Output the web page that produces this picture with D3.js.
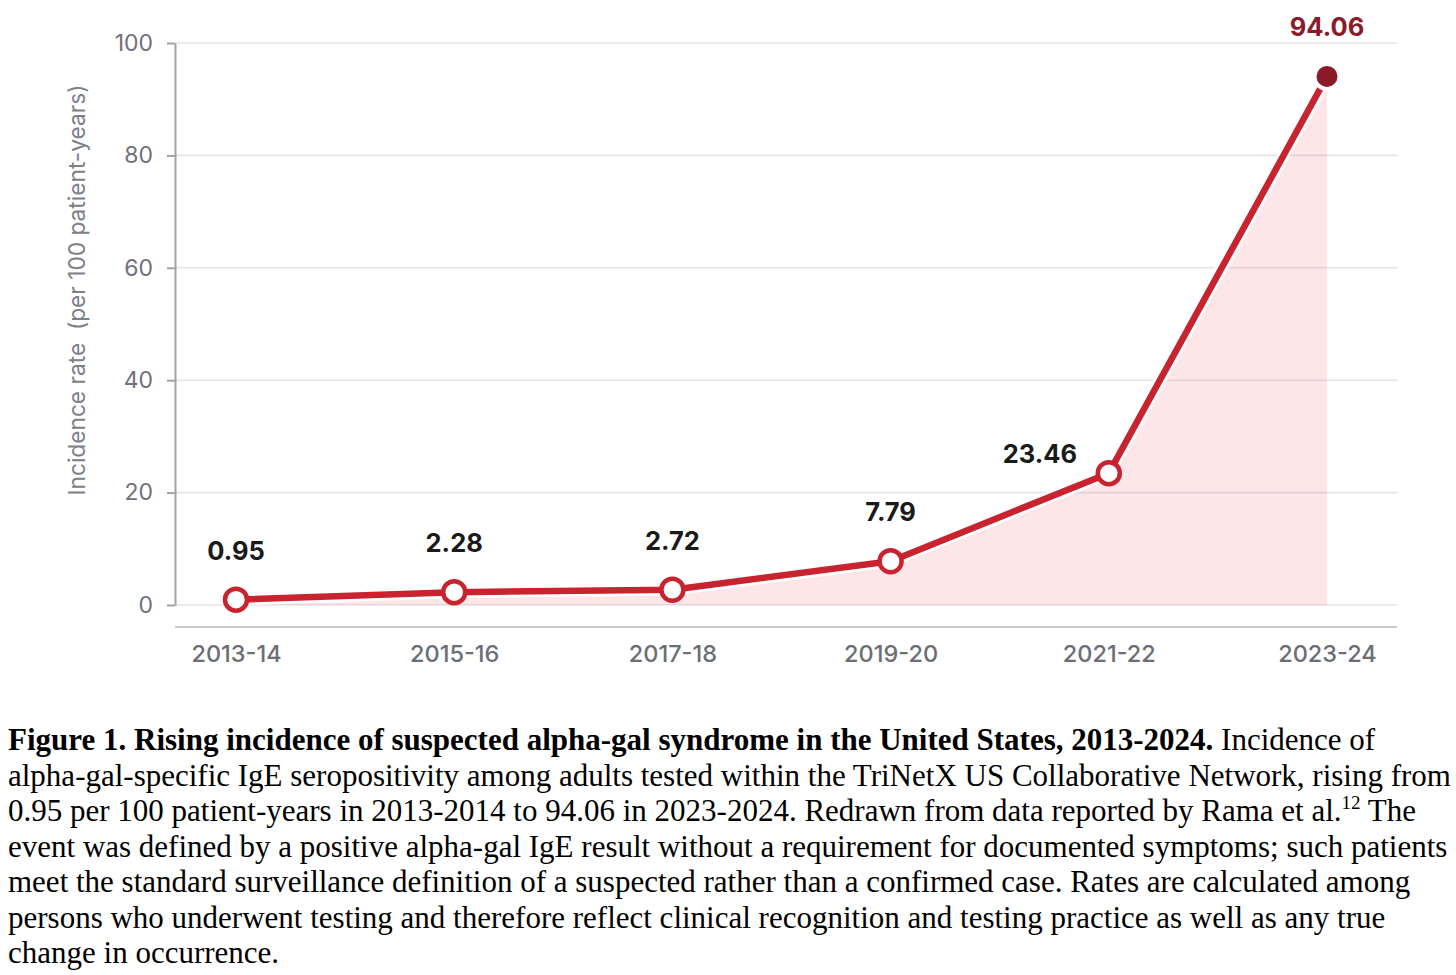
<!DOCTYPE html>
<html>
<head>
<meta charset="utf-8">
<script src="https://cdn.jsdelivr.net/npm/d3@7"></script>
<style>
  body { margin: 0; background: #fff; }
  svg { display: block; }
</style>
</head>
<body>
<div id="container"></div>
<script>
// data
const periods = ["2013-14", "2015-16", "2017-18", "2019-20", "2021-22", "2023-24"];
const rates = [0.95, 2.28, 2.72, 7.79, 23.46, 94.06];
const yTicks = [0, 20, 40, 60, 80, 100];
const yTitle = "Incidence rate\u00a0\u00a0(per 100 patient-years)";

// caption, one entry per printed line; each line is a list of [text, style]
const captionLines = [
  [["Figure 1. Rising incidence of suspected alpha-gal syndrome in the United States, 2013-2024.", "b"], [" Incidence of", ""]],
  [["alpha-gal-specific IgE seropositivity among adults tested within the TriNetX US Collaborative Network, rising from", ""]],
  [["0.95 per 100 patient-years in 2013-2014 to 94.06 in 2023-2024. Redrawn from data reported by Rama et al.", ""], ["12", "sup"], [" The", ""]],
  [["event was defined by a positive alpha-gal IgE result without a requirement for documented symptoms; such patients", ""]],
  [["meet the standard surveillance definition of a suspected rather than a confirmed case. Rates are calculated among", ""]],
  [["persons who underwent testing and therefore reflect clinical recognition and testing practice as well as any true", ""]],
  [["change in occurrence.", ""]]
];

const data = periods.map((p, i) => ({ period: p, rate: rates[i] }));

// layout
const width = 1456, height = 975;
const plot = { left: 175, right: 1397, top: 43, bottom: 605, axisY: 627 };
const red = "#c8232f", darkRed = "#8b1a2b";
const chartFont = "Inter, 'Open Sans', sans-serif";

const svg = d3.select("#container").append("svg")
  .attr("width", width)
  .attr("height", height);

// SCALES
const xScale = d3.scalePoint()
  .domain(periods)
  .range([plot.left + 61, plot.right - 70]);

const yScale = d3.scaleLinear()
  .domain([0, 100])
  .range([plot.bottom, plot.top]);

// gridlines
svg.append("g")
  .selectAll("line")
  .data(yTicks)
  .join("line")
    .attr("x1", plot.left)
    .attr("x2", plot.right)
    .attr("y1", d => yScale(d))
    .attr("y2", d => yScale(d))
    .attr("stroke", "#e4e5e9")
    .attr("stroke-width", 1.6);

// area under the line
const area = d3.area()
  .x(d => xScale(d.period))
  .y0(yScale(0))
  .y1(d => yScale(d.rate));

svg.append("path")
  .datum(data)
  .attr("d", area)
  .attr("fill", "rgb(232, 60, 80)")
  .attr("fill-opacity", 0.13);

// Y AXIS
const yAxis = d3.axisLeft(yScale)
  .tickValues(yTicks)
  .tickSize(8)
  .tickSizeOuter(0)
  .tickPadding(14);

const yAxisGroup = svg.append("g")
  .attr("transform", `translate(${plot.left},0)`)
  .call(yAxis);

yAxisGroup.select(".domain").attr("stroke", "#9ea2a9").attr("stroke-width", 2);
yAxisGroup.selectAll(".tick line").attr("stroke", "#9ea2a9").attr("stroke-width", 2);
yAxisGroup.selectAll(".tick text")
  .attr("fill", "#6f727a")
  .style("font-family", chartFont)
  .style("font-size", "23px");

svg.append("text")
  .attr("transform", `translate(85,${(plot.top + plot.bottom) / 2 - 34}) rotate(-90)`)
  .attr("text-anchor", "middle")
  .attr("fill", "#7c8089")
  .style("font-family", chartFont)
  .style("font-size", "22.7px")
  .text(yTitle);

// X AXIS
svg.append("line")
  .attr("x1", plot.left)
  .attr("x2", plot.right)
  .attr("y1", plot.axisY)
  .attr("y2", plot.axisY)
  .attr("stroke", "#c7c9ce")
  .attr("stroke-width", 2);

const xAxis = d3.axisBottom(xScale).tickSize(0).tickPadding(18);
const xAxisGroup = svg.append("g")
  .attr("transform", `translate(0,${plot.axisY})`)
  .call(xAxis);
xAxisGroup.select(".domain").remove();
xAxisGroup.selectAll(".tick text")
  .attr("fill", "#6b6e75")
  .style("font-family", chartFont)
  .style("font-size", "23.5px")
  .style("font-weight", 500);

// LINE (white halo underneath)
const line = d3.line()
  .x(d => xScale(d.period))
  .y(d => yScale(d.rate));

svg.append("path")
  .datum(data)
  .attr("d", line)
  .attr("fill", "none")
  .attr("stroke", "#fff")
  .attr("stroke-width", 12)
  .attr("stroke-linejoin", "round");

svg.append("path")
  .datum(data)
  .attr("d", line)
  .attr("fill", "none")
  .attr("stroke", red)
  .attr("stroke-width", 6.5)
  .attr("stroke-linejoin", "round");

// POINTS
const last = data.length - 1;
svg.selectAll("circle.dot")
  .data(data)
  .join("circle")
    .attr("class", "dot")
    .attr("cx", d => xScale(d.period))
    .attr("cy", d => yScale(d.rate))
    .attr("r", (d, i) => i === last ? 12.5 : 11)
    .attr("fill", (d, i) => i === last ? darkRed : "#fff")
    .attr("stroke", (d, i) => i === last ? "#fff" : red)
    .attr("stroke-width", (d, i) => i === last ? 4 : 4.5);

// value labels; 2021-22 sits to the left of its point
const labelNudge = { "2021-22": [-69, 30] };
svg.selectAll("text.value")
  .data(data)
  .join("text")
    .attr("class", "value")
    .attr("x", d => xScale(d.period) + (labelNudge[d.period] ? labelNudge[d.period][0] : 0))
    .attr("y", d => yScale(d.rate) - 40 + (labelNudge[d.period] ? labelNudge[d.period][1] : 0))
    .attr("text-anchor", "middle")
    .attr("fill", (d, i) => i === last ? darkRed : "#1a1a1a")
    .style("font-family", chartFont)
    .style("font-size", "25.5px")
    .style("font-weight", 700)
    .text(d => d3.format(".2f")(d.rate));

// CAPTION
const caption = svg.append("g")
  .style("font-family", "'Liberation Serif', 'Times New Roman', serif")
  .style("font-size", "31px")
  .attr("fill", "#000");

captionLines.forEach((parts, i) => {
  const t = caption.append("text")
    .attr("x", 8)
    .attr("y", 750 + i * 35.5);
  let afterSup = false;
  parts.forEach(([txt, style]) => {
    if (style === "sup") {
      t.append("tspan").attr("dy", -12).style("font-size", "19px").text(txt);
      afterSup = true;
    } else {
      const s = t.append("tspan").text(txt);
      if (style === "b") s.style("font-weight", 700);
      if (afterSup) { s.attr("dy", 12); afterSup = false; }
    }
  });
});
</script>
</body>
</html>
